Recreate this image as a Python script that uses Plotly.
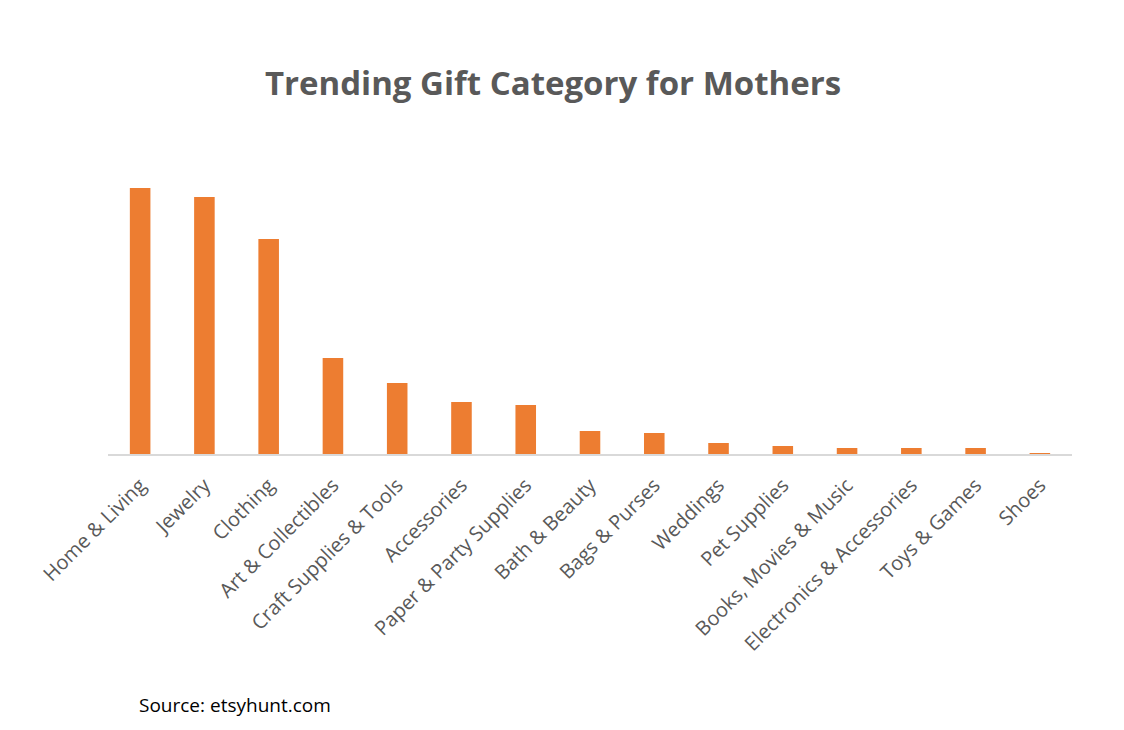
import plotly.graph_objects as go

categories = ["Home & Living", "Jewelry", "Clothing", "Art & Collectibles",
              "Craft Supplies & Tools", "Accessories", "Paper & Party Supplies",
              "Bath & Beauty", "Bags & Purses", "Weddings", "Pet Supplies",
              "Books, Movies & Music", "Electronics & Accessories", "Toys & Games", "Shoes"]
values = [266, 257, 215, 96, 71, 52, 49, 23, 21, 11, 8, 6, 6, 6, 1]

W, H = 1124, 730
L, T, B, R = 100, 152, 284, 60
PW, PH = W - L - R, H - T - B

fig = go.Figure(go.Bar(x=categories, y=values, marker_color="#ED7D31",
                       marker_line_width=0, width=0.32))

fig.update_layout(
    width=W, height=H,
    paper_bgcolor="white", plot_bgcolor="white",
    margin=dict(l=L, r=R, t=T, b=B, autoexpand=False),
    title=dict(text="<b>Trending Gift Category for Mothers</b>", x=545 / W, xanchor="center",
               y=1 - 75 / H, yanchor="middle",
               font=dict(family="Open Sans", size=33, color="#595959")),
    showlegend=False,
    annotations=[dict(text="Source: etsyhunt.com", xref="paper", yref="paper",
                      x=(129 - L) / PW, xanchor="left",
                      y=-(697 - (H - B)) / PH, yanchor="middle", showarrow=False,
                      font=dict(family="Open Sans", size=19, color="black"))],
)

fig.update_xaxes(tickangle=-45, showline=True, linecolor="#D9D9D9", linewidth=1.5,
                 ticks="", ticklabelstandoff=10,
                 tickfont=dict(family="Open Sans", size=20, color="#595959"),
                 showgrid=False)
fig.update_yaxes(visible=False, range=[0, 294], showgrid=False)

fig.write_html("out.html")
